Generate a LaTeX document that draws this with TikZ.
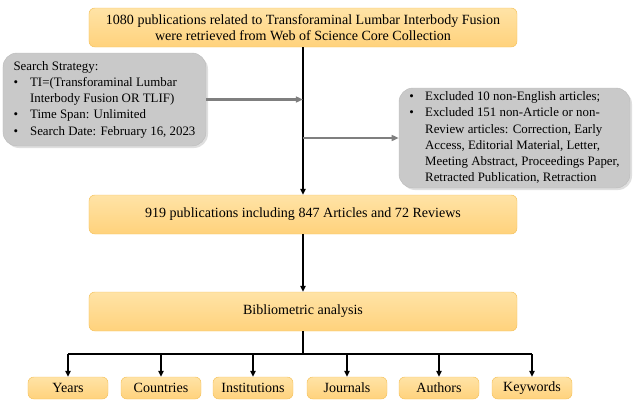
\documentclass[tikz,border=0pt]{standalone}
\usepackage{fontspec}
\setmainfont{Liberation Serif}
\usepackage{tikz}
\usetikzlibrary{arrows.meta,shadows}
\definecolor{boxtop}{HTML}{FFE3A6}
\definecolor{boxbot}{HTML}{FFD27C}
\definecolor{boxline}{HTML}{F5C35E}
\definecolor{greyfill}{HTML}{C9C9C9}
\definecolor{greyline}{HTML}{BDBDBD}
\definecolor{greyarrow}{HTML}{7F7F7F}
\tikzstyle{mainbox} = [draw=boxline, top color=boxtop, bottom color=boxbot, rounded corners=5pt, minimum width=128.4mm, minimum height=11.7mm, align=center, font=\rmfamily\fontsize{12}{14}\selectfont, inner sep=0pt]
\tikzstyle{smallbox} = [mainbox, minimum width=24mm, minimum height=6.6mm]
\tikzstyle{notebox} = [draw=greyline, fill=greyfill, rounded corners=12pt, drop shadow={opacity=0.25,shadow xshift=0.6mm,shadow yshift=-0.6mm}, align=left, inner sep=0pt, font=\rmfamily\fontsize{11}{13.8}\selectfont]
\tikzstyle{flow} = [-{Triangle[length=5pt,width=4.5pt]}, line width=1.2pt, black]
\tikzstyle{side} = [-{Triangle[length=6pt,width=5pt]}, line width=2pt, greyarrow]

\begin{document}
\begin{tikzpicture}[x=0.3mm,y=-0.3mm]
\useasboundingbox (0,0) rectangle (633,400);
\node [mainbox] (found) at (303,27.5) {1080 publications related to Transforaminal Lumbar Interbody Fusion\\were retrieved from Web of Science Core Collection};
\node [notebox, minimum width=60.9mm, minimum height=27.9mm] (search) at (104.5,99.5) {%
    \begin{tabular}{@{}l@{\hspace{3.6mm}}l@{}}
    \multicolumn{2}{@{}l}{Search Strategy:}\\
    • & TI=(Transforaminal Lumbar\\
      & Interbody Fusion OR TLIF)\\
    • & Time Span: Unlimited\\
    • & Search Date: February 16, 2023
    \end{tabular}};
\node [notebox, minimum width=69.3mm, minimum height=30mm] (excl) at (514.5,138) {%
    \begin{tabular}{@{}l@{\hspace{3.4mm}}l@{}}
    • & Excluded 10 non-English articles;\\
    • & Excluded 151 non-Article or non-\\
      & Review articles: Correction, Early\\
      & Access, Editorial Material, Letter,\\
      & Meeting Abstract, Proceedings Paper,\\
      & Retracted Publication, Retraction
    \end{tabular}};
\node [mainbox] (incl) at (303,214.5) {919 publications including 847 Articles and 72 Reviews};
\node [mainbox] (biblio) at (303,311.5) {Bibliometric analysis};
\node [smallbox] (years) at (68,388) {Years};
\node [smallbox] (countries) at (161,388) {Countries};
\node [smallbox] (institutions) at (253,388) {Institutions};
\node [smallbox] (journals) at (347,388) {Journals};
\node [smallbox] (authors) at (439,388) {Authors};
\node [smallbox] (keywords) at (532,388) {Keywords};

\coordinate (join1) at (303,99.5);
\coordinate (join2) at (303,138);
\coordinate (fork) at (303,354);

\draw [flow] (found) -- (incl);
\draw [side] (search.east) -- (join1);
\draw [side] (join2) -- (excl.west);
\draw [flow] (incl) -- (biblio);
\draw [line width=1.2pt] (biblio.south) -- (fork);
\draw [line width=1.2pt] (years.north |- fork) -- (keywords.north |- fork);
\foreach \n in {years,countries,institutions,journals,authors,keywords}
    \draw [flow] (\n.north |- fork) -- (\n.north);
\end{tikzpicture}
\end{document}
